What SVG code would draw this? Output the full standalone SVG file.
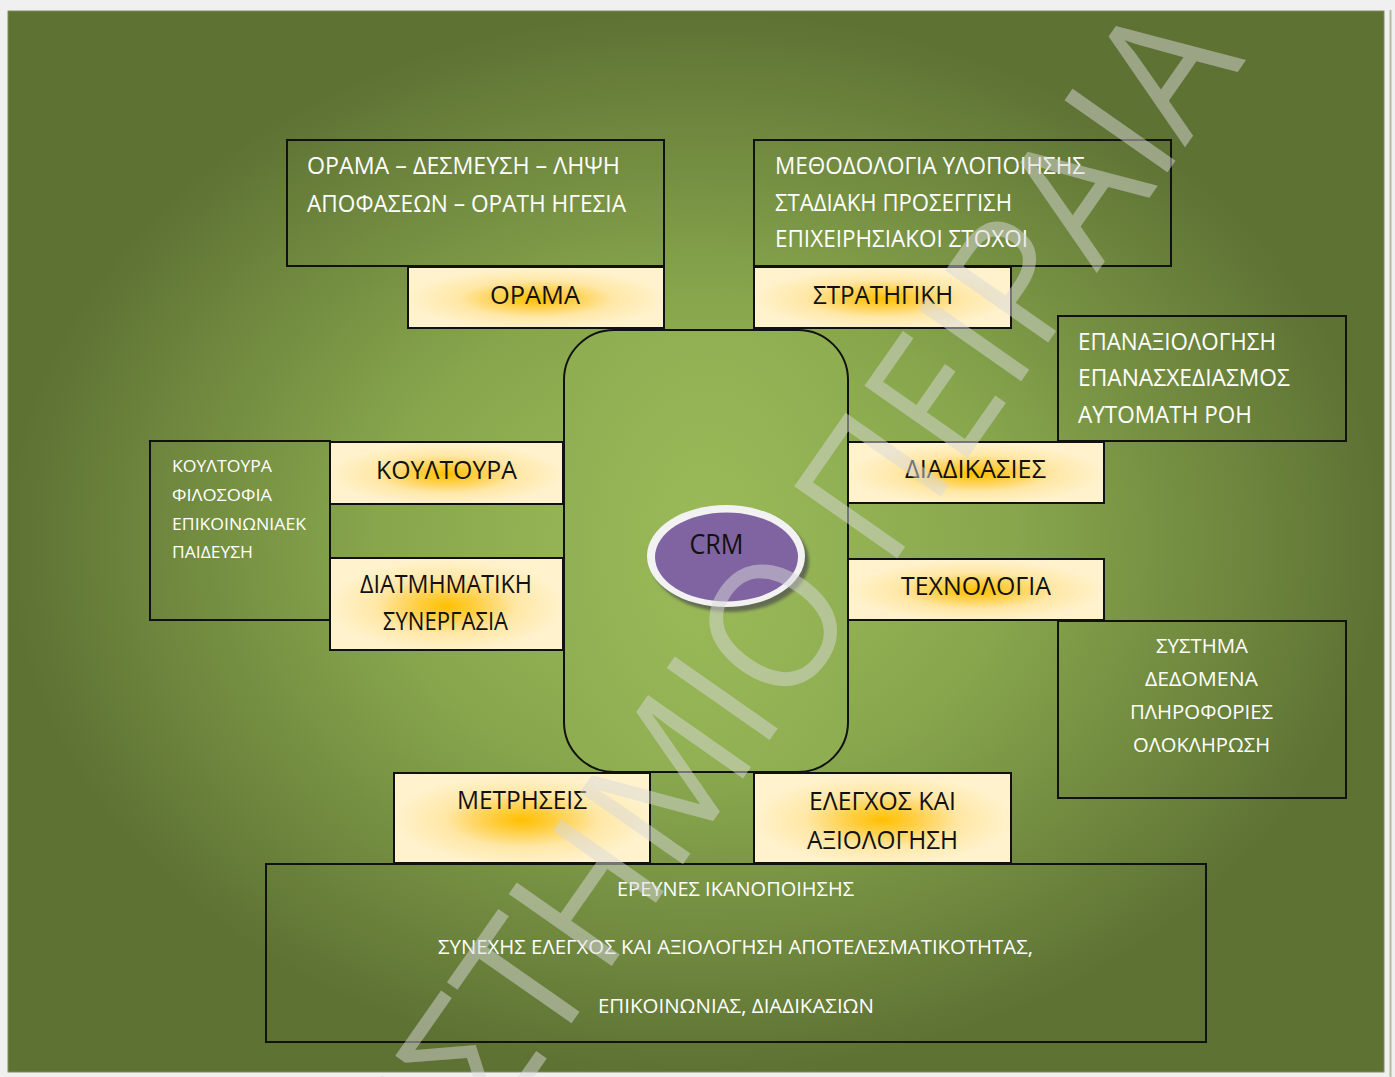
<svg xmlns="http://www.w3.org/2000/svg" width="1395" height="1077" viewBox="0 0 1395 1077">
  <style>
    .info { fill: none; stroke: #111; stroke-width: 2; }
    .tag { fill: url(#glow); stroke: #111; stroke-width: 2; }
    .wt { font-family: "Open Sans", "Noto Sans", "DejaVu Sans", sans-serif; fill: #ffffff; }
    .bk { font-family: "Open Sans", "Noto Sans", "DejaVu Sans", sans-serif; fill: #111111; }
    .big { font-size: 23px; }
    .sm { font-size: 16.5px; }
    .md { font-size: 20px; }
    .bt { font-size: 19.5px; }
    .lb { font-size: 25px; }
    .wm { font-family: "Open Sans", "Noto Sans", sans-serif; font-size: 176px; fill: #d8d8d8; fill-opacity: 0.5; }
  </style>
  <defs>
    <radialGradient id="page" cx="0.5" cy="0.5" r="0.5">
      <stop offset="0" stop-color="#9dbd5a"/>
      <stop offset="0.45" stop-color="#88a74d"/>
      <stop offset="1" stop-color="#5e7234"/>
    </radialGradient>
    <radialGradient id="core" cx="0.5" cy="0.5" r="0.6">
      <stop offset="0" stop-color="#9bbb59"/>
      <stop offset="1" stop-color="#8fae52"/>
    </radialGradient>
    <radialGradient id="glow" cx="0.5" cy="0.52" r="0.5">
      <stop offset="0" stop-color="#ffc000"/>
      <stop offset="0.28" stop-color="#ffd04a"/>
      <stop offset="0.6" stop-color="#ffe7a6"/>
      <stop offset="1" stop-color="#fff2cc"/>
    </radialGradient>
    <filter id="drop" x="-20%" y="-20%" width="140%" height="150%">
      <feGaussianBlur stdDeviation="1.5"/>
    </filter>
  </defs>

  <!-- page frame and green panel -->
  <rect x="0" y="0" width="1395" height="1077" fill="#f0f0f0"/>
  <rect x="8" y="11" width="1376" height="1061" fill="url(#page)" stroke="#7f8c63" stroke-width="1"/>
  <line x1="1390.5" y1="10" x2="1390.5" y2="1077" stroke="#b2bc9e" stroke-width="2"/>

  <!-- description boxes -->
  <g id="box-vision">
    <rect class="info" x="287" y="140" width="377" height="126"/>
    <text class="wt big" x="307" y="174" textLength="313" lengthAdjust="spacingAndGlyphs">ΟΡΑΜΑ – ΔΕΣΜΕΥΣΗ – ΛΗΨΗ</text>
    <text class="wt big" x="307" y="212" textLength="319" lengthAdjust="spacingAndGlyphs">ΑΠΟΦΑΣΕΩΝ – ΟΡΑΤΗ ΗΓΕΣΙΑ</text>
  </g>
  <g id="box-strategy">
    <rect class="info" x="754" y="140" width="417" height="126"/>
    <text class="wt big" x="775" y="174" textLength="310" lengthAdjust="spacingAndGlyphs">ΜΕΘΟΔΟΛΟΓΙΑ ΥΛΟΠΟΙΗΣΗΣ</text>
    <text class="wt big" x="775" y="211" textLength="237" lengthAdjust="spacingAndGlyphs">ΣΤΑΔΙΑΚΗ ΠΡΟΣΕΓΓΙΣΗ</text>
    <text class="wt big" x="775" y="247" textLength="253" lengthAdjust="spacingAndGlyphs">ΕΠΙΧΕΙΡΗΣΙΑΚΟΙ ΣΤΟΧΟΙ</text>
  </g>
  <g id="box-process">
    <rect class="info" x="1058" y="316" width="288" height="125"/>
    <text class="wt big" x="1078" y="350" textLength="198" lengthAdjust="spacingAndGlyphs">ΕΠΑΝΑΞΙΟΛΟΓΗΣΗ</text>
    <text class="wt big" x="1078" y="386" textLength="212" lengthAdjust="spacingAndGlyphs">ΕΠΑΝΑΣΧΕΔΙΑΣΜΟΣ</text>
    <text class="wt big" x="1078" y="423" textLength="174" lengthAdjust="spacingAndGlyphs">ΑΥΤΟΜΑΤΗ ΡΟΗ</text>
  </g>
  <g id="box-culture">
    <rect class="info" x="150" y="441" width="180" height="179"/>
    <text class="wt sm" x="172" y="472" textLength="100" lengthAdjust="spacingAndGlyphs">ΚΟΥΛΤΟΥΡΑ</text>
    <text class="wt sm" x="172" y="501" textLength="100" lengthAdjust="spacingAndGlyphs">ΦΙΛΟΣΟΦΙΑ</text>
    <text class="wt sm" x="172" y="530" textLength="134" lengthAdjust="spacingAndGlyphs">ΕΠΙΚΟΙΝΩΝΙΑΕΚ</text>
    <text class="wt sm" x="172" y="558" textLength="81" lengthAdjust="spacingAndGlyphs">ΠΑΙΔΕΥΣΗ</text>
  </g>
  <g id="box-technology">
    <rect class="info" x="1058" y="621" width="288" height="177"/>
    <text class="wt md" x="1156" y="653" textLength="92" lengthAdjust="spacingAndGlyphs">ΣΥΣΤΗΜΑ</text>
    <text class="wt md" x="1145" y="686" textLength="113" lengthAdjust="spacingAndGlyphs">ΔΕΔΟΜΕΝΑ</text>
    <text class="wt md" x="1130" y="719" textLength="143" lengthAdjust="spacingAndGlyphs">ΠΛΗΡΟΦΟΡΙΕΣ</text>
    <text class="wt md" x="1133" y="752" textLength="137" lengthAdjust="spacingAndGlyphs">ΟΛΟΚΛΗΡΩΣΗ</text>
  </g>
  <g id="box-evaluation">
    <rect class="info" x="266" y="864" width="940" height="178"/>
    <text class="wt bt" x="617" y="896" textLength="237" lengthAdjust="spacingAndGlyphs">ΕΡΕΥΝΕΣ ΙΚΑΝΟΠΟΙΗΣΗΣ</text>
    <text class="wt bt" x="438" y="954" textLength="595" lengthAdjust="spacingAndGlyphs">ΣΥΝΕΧΗΣ ΕΛΕΓΧΟΣ ΚΑΙ ΑΞΙΟΛΟΓΗΣΗ ΑΠΟΤΕΛΕΣΜΑΤΙΚΟΤΗΤΑΣ,</text>
    <text class="wt bt" x="598" y="1013" textLength="276" lengthAdjust="spacingAndGlyphs">ΕΠΙΚΟΙΝΩΝΙΑΣ, ΔΙΑΔΙΚΑΣΙΩΝ</text>
  </g>

  <!-- central block -->
  <g id="core">
    <rect x="564" y="330" width="284" height="442" rx="50" ry="50" fill="url(#core)" stroke="#111" stroke-width="2"/>
  </g>

  <!-- labelled tabs around the core -->
  <g id="tag-vision">
    <rect class="tag" x="408" y="267" width="256" height="61"/>
    <text class="bk lb" x="490" y="304" textLength="90" lengthAdjust="spacingAndGlyphs">ΟΡΑΜΑ</text>
  </g>
  <g id="tag-strategy">
    <rect class="tag" x="754" y="267" width="257" height="61"/>
    <text class="bk lb" x="813" y="304" textLength="140" lengthAdjust="spacingAndGlyphs">ΣΤΡΑΤΗΓΙΚΗ</text>
  </g>
  <g id="tag-culture">
    <rect class="tag" x="330" y="442" width="233" height="62"/>
    <text class="bk lb" x="376" y="479" textLength="141" lengthAdjust="spacingAndGlyphs">ΚΟΥΛΤΟΥΡΑ</text>
  </g>
  <g id="tag-cooperation">
    <rect class="tag" x="330" y="558" width="233" height="92"/>
    <text class="bk lb" x="360" y="593" textLength="172" lengthAdjust="spacingAndGlyphs">ΔΙΑΤΜΗΜΑΤΙΚΗ</text>
    <text class="bk lb" x="383" y="630" textLength="125" lengthAdjust="spacingAndGlyphs">ΣΥΝΕΡΓΑΣΙΑ</text>
  </g>
  <g id="tag-process">
    <rect class="tag" x="848" y="442" width="256" height="61"/>
    <text class="bk lb" x="905" y="478" textLength="141" lengthAdjust="spacingAndGlyphs">ΔΙΑΔΙΚΑΣΙΕΣ</text>
  </g>
  <g id="tag-technology">
    <rect class="tag" x="848" y="559" width="256" height="61"/>
    <text class="bk lb" x="901" y="595" textLength="150" lengthAdjust="spacingAndGlyphs">ΤΕΧΝΟΛΟΓΙΑ</text>
  </g>
  <g id="tag-measure">
    <rect class="tag" x="394" y="773" width="256" height="90"/>
    <text class="bk lb" x="457" y="809" textLength="130" lengthAdjust="spacingAndGlyphs">ΜΕΤΡΗΣΕΙΣ</text>
  </g>
  <g id="tag-control">
    <rect class="tag" x="754" y="773" width="257" height="90"/>
    <text class="bk lb" x="809" y="810" textLength="147" lengthAdjust="spacingAndGlyphs">ΕΛΕΓΧΟΣ ΚΑΙ</text>
    <text class="bk lb" x="807" y="849" textLength="151" lengthAdjust="spacingAndGlyphs">ΑΞΙΟΛΟΓΗΣΗ</text>
  </g>

  <!-- CRM hub -->
  <g id="crm">
    <ellipse cx="730" cy="561" rx="79" ry="51" fill="#4d4d4d" opacity="0.7" filter="url(#drop)"/>
    <ellipse cx="726" cy="556" rx="79" ry="51" fill="#f2f2f2"/>
    <ellipse cx="726.5" cy="557" rx="71.5" ry="44.5" fill="#8064a2"/>
    <text class="bk" x="716.5" y="554" font-size="28" text-anchor="middle" textLength="54" lengthAdjust="spacingAndGlyphs">CRM</text>
  </g>

  <!-- diagonal watermark -->
  <text class="wm" transform="translate(1246,60) rotate(-55)" text-anchor="end" textLength="1930" lengthAdjust="spacingAndGlyphs">ΠΑΝΕΠΙΣΤΗΜΙΟ ΠΕΙΡΑΙΑ</text>
</svg>
